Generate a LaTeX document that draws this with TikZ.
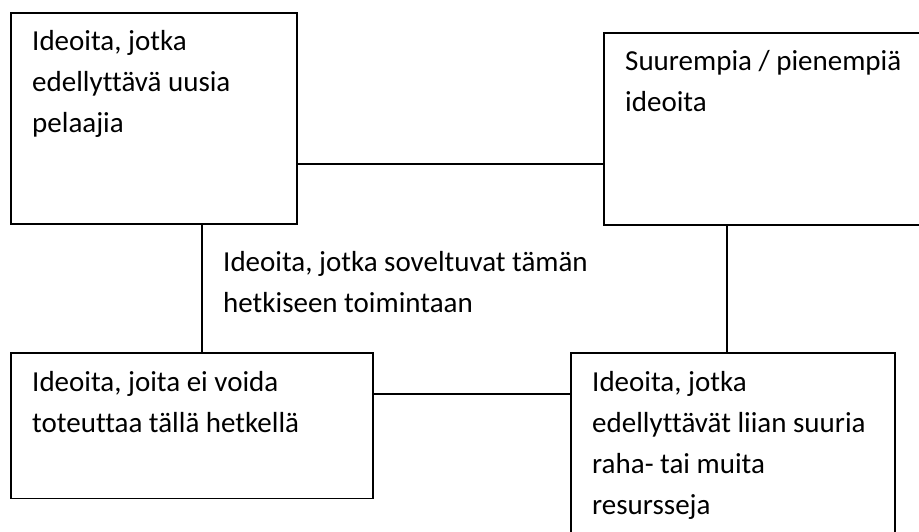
\documentclass[tikz,border=0pt]{standalone}
\usepackage{fontspec}
\setmainfont{Carlito}[Ligatures=NoCommon]
\begin{document}
\begin{tikzpicture}[x=1pt,y=-1pt,
  box/.style={draw=black,line width=1.8pt,rectangle,inner sep=0pt,outer sep=0pt,anchor=north west},
  link/.style={draw=black,line width=1.4pt},
  label/.style={anchor=base west,inner sep=0pt,align=left,
    font=\fontsize{29}{41}\selectfont}]
\clip (0,0) rectangle (919,531);
\fill[white] (0,0) rectangle (919,531);

% boxes
\node[box,minimum width=286pt,minimum height=211pt] (b1) at (10.7,12.7) {};
\node[box,minimum width=340pt,minimum height=192pt] (b2) at (604,33) {};
\node[box,minimum width=362pt,minimum height=145.5pt] (b3) at (10.7,353) {};
\node[box,minimum width=324pt,minimum height=200pt] (b4) at (571,353) {};

% box texts (placed by the baseline of their last line)
\node[label] (t1) at (32,132.5) {Ideoita, jotka\\edellyttävä uusia\\pelaajia};
\node[label] (t2) at (625,111.5) {Suurempia / pienempiä\\ideoita};
\node[label] (t3) at (32,432.5) {Ideoita, joita ei voida\\toteuttaa tällä hetkellä};
\node[label] (t4) at (592,514) {Ideoita, jotka\\edellyttävät liian suuria\\raha- tai muita\\resursseja};
\node[label] (t5) at (223,312) {Ideoita, jotka soveltuvat tämän\\hetkiseen toimintaan};

% connector guides
\coordinate (top) at (0,164);
\coordinate (bot) at (0,394);
\coordinate (left) at (202,0);
\coordinate (right) at (727,0);

% connectors
\draw[link] (b1.east |- top) -- (b2.west |- top);
\draw[link] (b3.east |- bot) -- (b4.west |- bot);
\draw[link] (b1.south -| left) -- (b3.north -| left);
\draw[link] (b2.south -| right) -- (b4.north -| right);
\end{tikzpicture}
\end{document}
